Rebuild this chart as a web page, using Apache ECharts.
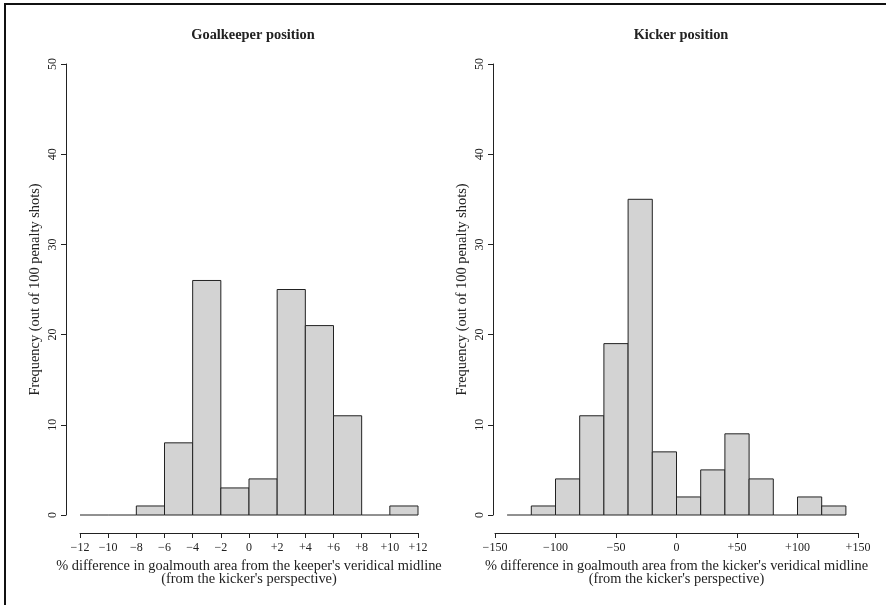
<!DOCTYPE html>
<html>
<head>
<meta charset="utf-8">
<script src="https://cdn.jsdelivr.net/npm/echarts@6/dist/echarts.min.js"></script>
<style>html,body{margin:0;padding:0;background:#fff;}#c{width:886px;height:605px;}</style>
</head>
<body>
<div id="c"></div>
<script>
// Goalkeeper position histogram: bin edges (width 2) and counts
const keeperBinStarts = [-12, -10, -8, -6, -4, -2, 0, 2, 4, 6, 8, 10];
const keeperBinWidth = 2;
const keeperCounts = [0, 0, 1, 8, 26, 3, 4, 25, 21, 11, 0, 1];

// Kicker position histogram: bin edges (width 20) and counts
const kickerBinStarts = [-140, -120, -100, -80, -60, -40, -20, 0, 20, 40, 60, 80, 100, 120];
const kickerBinWidth = 20;
const kickerCounts = [0, 1, 4, 11, 19, 35, 7, 2, 5, 9, 4, 0, 2, 1];

const titles = ['Goalkeeper position', 'Kicker position'];
const xTitles = [
  "% difference in goalmouth area from the keeper's veridical midline\n(from the kicker's perspective)",
  "% difference in goalmouth area from the kicker's veridical midline\n(from the kicker's perspective)"
];
const yTitle = 'Frequency (out of 100 penalty shots)';

const FONT = 'Liberation Serif';
const INK = '#222';

function fmtX(v) {
  if (v < 0) return '\u2212' + Math.abs(v);
  if (v > 0) return '+' + v;
  return '0';
}

function binData(starts, width, counts) {
  return starts.map((s, i) => [s, s + width, counts[i]]);
}

function renderBar(params, api) {
  const x0 = api.value(0), x1 = api.value(1), c = api.value(2);
  const p0 = api.coord([x0, c]);
  const p1 = api.coord([x1, 0]);
  if (c === 0) {
    return {
      type: 'line',
      shape: { x1: p0[0], y1: p1[1], x2: p1[0], y2: p1[1] },
      style: { stroke: INK, lineWidth: 1 }
    };
  }
  return {
    type: 'rect',
    shape: { x: p0[0], y: p0[1], width: p1[0] - p0[0], height: p1[1] - p0[1] },
    style: { fill: '#d3d3d3', stroke: INK, lineWidth: 1 }
  };
}

function xAxisCfg(gi, min, max, interval, name) {
  return {
    type: 'value', gridIndex: gi, min: min, max: max, interval: interval,
    position: 'bottom', offset: 18,
    splitLine: { show: false },
    axisLine: { show: true, onZero: false, lineStyle: { color: INK, width: 1 } },
    axisTick: { show: true, length: 5, inside: false, lineStyle: { color: INK } },
    axisLabel: { formatter: fmtX, fontFamily: FONT, fontSize: 12, color: INK, margin: 9, showMinLabel: true, showMaxLabel: true },
    name: name, nameLocation: 'middle', nameGap: 25,
    nameTextStyle: { fontFamily: FONT, fontSize: 14.4, color: INK, lineHeight: 13.5 }
  };
}

function yAxisCfg(gi, offset) {
  return {
    type: 'value', gridIndex: gi, min: 0, max: 50, interval: 10,
    position: 'left', offset: offset,
    splitLine: { show: false },
    axisLine: { show: true, onZero: false, lineStyle: { color: INK, width: 1 } },
    axisTick: { show: true, length: 5, inside: false, lineStyle: { color: INK } },
    axisLabel: { rotate: 90, fontFamily: FONT, fontSize: 12, color: INK, margin: 7 },
    name: yTitle, nameLocation: 'middle', nameRotate: 90, nameGap: 24,
    nameTextStyle: { fontFamily: FONT, fontSize: 14.4, color: INK }
  };
}

const chart = echarts.init(document.getElementById('c'), null, { renderer: 'canvas' });
chart.setOption({
  animation: false,
  backgroundColor: '#fff',
  title: [
    { text: titles[0], left: 248, top: 23, textAlign: 'center',
      textStyle: { fontFamily: FONT, fontSize: 14.4, fontWeight: 'bold', color: INK } },
    { text: titles[1], left: 676, top: 23, textAlign: 'center',
      textStyle: { fontFamily: FONT, fontSize: 14.4, fontWeight: 'bold', color: INK } }
  ],
  grid: [
    { left: 80, top: 64, width: 338, height: 451 },
    { left: 495, top: 64, width: 363, height: 451 }
  ],
  xAxis: [
    xAxisCfg(0, -12, 12, 2, xTitles[0]),
    xAxisCfg(1, -150, 150, 50, xTitles[1])
  ],
  yAxis: [
    yAxisCfg(0, 14),
    yAxisCfg(1, 2)
  ],
  graphic: [
    { type: 'rect', shape: { x: 5, y: 4, width: 2000, height: 2000 },
      style: { fill: 'none', stroke: '#111', lineWidth: 2 }, silent: true }
  ],
  series: [
    { type: 'custom', xAxisIndex: 0, yAxisIndex: 0, renderItem: renderBar,
      data: binData(keeperBinStarts, keeperBinWidth, keeperCounts), encode: { x: [0, 1], y: 2 } },
    { type: 'custom', xAxisIndex: 1, yAxisIndex: 1, renderItem: renderBar,
      data: binData(kickerBinStarts, kickerBinWidth, kickerCounts), encode: { x: [0, 1], y: 2 } }
  ]
});
</script>
</body>
</html>
